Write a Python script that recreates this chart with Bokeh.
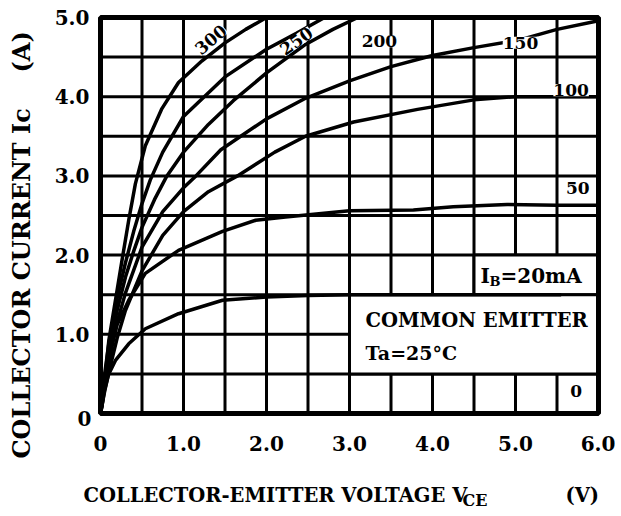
import numpy as np
from bokeh.plotting import figure
from bokeh.models import Label, FixedTicker, Range1d
from bokeh.embed import file_html
from bokeh.resources import INLINE

# ---- data ----
x_ticks = [0, 1, 2, 3, 4, 5, 6]
x_tick_labels = ["0", "1.0", "2.0", "3.0", "4.0", "5.0", "6.0"]
y_ticks = [1, 2, 3, 4, 5]
y_tick_labels = ["1.0", "2.0", "3.0", "4.0", "5.0"]
x_grid = [0.5, 1.0, 1.5, 2.0, 2.5, 3.0, 3.5, 4.0, 4.5, 5.0, 5.5]
y_grid = [0.5, 1.0, 1.5, 2.0, 2.5, 3.0, 3.5, 4.0, 4.5]

v_ib20 = [0, 0.05, 0.1, 0.18, 0.34, 0.54, 0.94, 1.47, 2.0, 2.5, 3.0, 4.0, 5.0, 5.55]
i_ib20 = [0, 0.3, 0.5, 0.67, 0.88, 1.07, 1.26, 1.43, 1.47, 1.49, 1.5, 1.5, 1.5, 1.5]

v_ib50 = [0, 0.05, 0.1, 0.2, 0.34, 0.54, 0.94, 1.47, 1.87, 2.23, 3.0, 3.77, 4.25, 4.9, 5.5, 6.0]
i_ib50 = [0, 0.4, 0.72, 1.12, 1.43, 1.77, 2.06, 2.30, 2.44, 2.48, 2.56, 2.57, 2.61, 2.64, 2.63, 2.63]

v_ib100 = [0, 0.05, 0.1, 0.2, 0.3, 0.5, 0.75, 1.0, 1.3, 1.65, 2.1, 2.47, 3.05, 3.82, 4.5, 5.0, 6.0]
i_ib100 = [0, 0.28, 0.52, 0.95, 1.3, 1.8, 2.25, 2.55, 2.8, 3.0, 3.3, 3.5, 3.68, 3.84, 3.96, 4.0, 4.0]

v_ib150 = [0, 0.05, 0.1, 0.2, 0.3, 0.5, 0.75, 1.0, 1.15, 1.45, 2.0, 2.47, 3.0, 3.5, 4.0, 4.5, 5.06, 5.5, 6.0]
i_ib150 = [0, 0.35, 0.65, 1.15, 1.52, 2.1, 2.55, 2.85, 3.0, 3.33, 3.72, 3.98, 4.2, 4.38, 4.52, 4.62, 4.72, 4.85, 4.96]

v_ib200 = [0, 0.05, 0.1, 0.2, 0.3, 0.4, 0.5, 0.65, 0.8, 1.0, 1.3, 1.6, 2.0, 2.47, 2.8, 3.1]
i_ib200 = [0, 0.42, 0.78, 1.3, 1.72, 2.05, 2.35, 2.7, 3.0, 3.3, 3.65, 3.95, 4.3, 4.66, 4.85, 5.0]

v_ib250 = [0, 0.05, 0.1, 0.2, 0.3, 0.4, 0.5, 0.6, 0.75, 1.0, 1.5, 2.0, 2.36, 2.7]
i_ib250 = [0, 0.5, 0.88, 1.45, 1.9, 2.3, 2.65, 2.95, 3.3, 3.75, 4.25, 4.6, 4.8, 5.0]

v_ib300 = [0, 0.02, 0.1, 0.18, 0.26, 0.34, 0.42, 0.54, 0.74, 0.94, 1.22, 1.5, 1.75, 2.0]
i_ib300 = [0, 0.1, 0.92, 1.43, 1.94, 2.44, 2.9, 3.38, 3.85, 4.18, 4.45, 4.68, 4.85, 5.0]

curves = [(v_ib20, i_ib20), (v_ib50, i_ib50), (v_ib100, i_ib100), (v_ib150, i_ib150),
          (v_ib200, i_ib200), (v_ib250, i_ib250), (v_ib300, i_ib300)]

# curve labels: text, x (V), y (A), angle (deg)
curve_labels = [("300", 1.33, 4.72, 40), ("250", 2.36, 4.7, 35), ("200", 3.36, 4.70, 0),
                ("150", 5.06, 4.68, 0), ("100", 5.67, 4.08, 0), ("50", 5.75, 2.85, 0),
                ("0", 5.73, 0.28, 0)]

FONT = "DejaVu Serif"

# ---- layout: whole canvas is the frame, plot box drawn at fixed pixels ----
W, H = 615, 510
L_PX, T_PX = 100, 17          # plot box left / top in pixels
SX, SY = 83.0, 79.2           # pixels per volt / per ampere
B_PX = T_PX + 5 * SY


def X(px):
    return (px - L_PX) / SX


def Y(py):
    return (B_PX - py) / SY


p = figure(width=W, height=H, output_backend="svg", toolbar_location=None,
           x_range=Range1d(X(0), X(W)), y_range=Range1d(Y(H), Y(0)),
           min_border_left=0, min_border_right=0, min_border_top=0, min_border_bottom=0)
p.background_fill_color = "white"
p.border_fill_color = "white"
p.outline_line_color = None
p.grid.visible = False

# axes placed at the plot box edges
p.xaxis.fixed_location = 0
p.yaxis.fixed_location = 0
p.xaxis.ticker = FixedTicker(ticks=x_ticks)
p.xaxis.major_label_overrides = {t: l for t, l in zip(x_ticks, x_tick_labels)}
p.yaxis.ticker = FixedTicker(ticks=y_ticks)
p.yaxis.major_label_overrides = {t: l for t, l in zip(y_ticks, y_tick_labels)}
for ax in (p.xaxis, p.yaxis):
    ax.axis_line_color = None
    ax.major_tick_line_color = None
    ax.minor_tick_line_color = None
    ax.major_tick_in = 0
    ax.major_tick_out = 0
    ax.minor_tick_out = 0
    ax.major_label_text_font = FONT
    ax.major_label_text_font_style = "bold"
    ax.major_label_text_font_size = "20px"
    ax.major_label_text_color = "black"
p.xaxis.major_label_standoff = 22
p.yaxis.major_label_standoff = 11

# grid lines every 0.5, confined to the plot box
p.segment(x0=x_grid, y0=[0] * len(x_grid), x1=x_grid, y1=[5] * len(x_grid),
          line_color="black", line_width=3)
p.segment(x0=[0] * len(y_grid), y0=y_grid, x1=[6] * len(y_grid), y1=y_grid,
          line_color="black", line_width=3)

# white boxes behind annotation texts (hide grid)
p.quad(left=[4.5, 3.0], right=[6.0, 6.0], bottom=[1.5, 0.5], top=[2.0, 1.5],
       fill_color="white", line_color="black", line_width=3)

for v, i in curves:
    p.line(v, i, line_color="black", line_width=3.5, line_join="round")

# plot box outline
p.quad(left=[0], right=[6], bottom=[0], top=[5], fill_color=None,
       line_color="black", line_width=5)

for txt, x, y, ang in curve_labels:
    p.add_layout(Label(x=x, y=y, text=txt, angle=np.deg2rad(ang),
                       text_align="center", text_baseline="middle",
                       text_font=FONT, text_font_style="bold", text_font_size="17px",
                       background_fill_color="white", text_color="black"))


def lab(px, py, t, size="19px", align="left", baseline="middle", angle=0.0):
    p.add_layout(Label(x=X(px), y=Y(py), text=t, text_align=align, text_baseline=baseline,
                       angle=angle, text_font=FONT, text_font_style="bold",
                       text_font_size=size, text_color="black"))


# y-axis "0" (sits at the lower-left corner in the reference)
lab(91, 418, "0", size="20px", align="right")

# annotation texts
lab(480, 275, "I", size="20px")
lab(489, 281, "B", size="13px")
lab(500, 275, "=20mA", size="20px")
lab(365, 320, "COMMON EMITTER", size="19.5px")
lab(365, 352, "Ta=25°C", size="19px")

# x-axis title
lab(83, 495, "COLLECTOR-EMITTER VOLTAGE V", size="19.5px")
lab(462, 500, "CE", size="16px")
lab(565, 495, "(V)", size="19.5px")

# y-axis title (rotated)
lab(21, 458, "COLLECTOR CURRENT Ic", size="24px", angle=np.pi / 2)
lab(21, 72, "(A)", size="24px", angle=np.pi / 2)

open("out.html", "w").write(file_html(p, INLINE))
